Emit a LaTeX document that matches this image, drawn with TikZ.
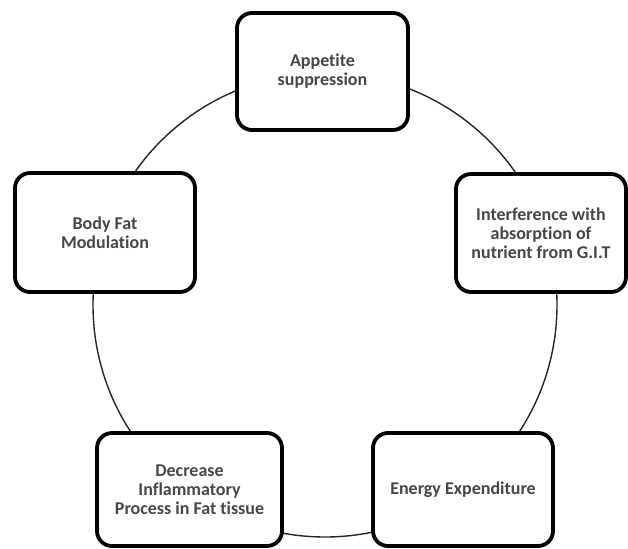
\documentclass[tikz,border=0pt]{standalone}
\usepackage{fontspec}
\setmainfont[Ligatures=NoCommon]{Carlito}
\begin{document}
\begin{tikzpicture}[x=1pt,y=-1pt,
  box/.style={draw=black,line width=3.8pt,rounded corners=15pt,fill=white,
    minimum width=#1,align=center,inner sep=0pt,
    font=\fontsize{18}{19}\selectfont\bfseries,text=black!72},
  ring/.style={draw=black!85,line width=1.4pt,circle,minimum size=464pt,inner sep=0pt}]
\useasboundingbox (0,0) rectangle (628,548);
\node[ring] (ring) at (325,305) {};
\node[box=171pt,minimum height=117pt] (app) at (322.5,71.5) {Appetite\\suppression};
\node[box=180pt,minimum height=119pt] (fat) at (105,232.5) {Body Fat\\Modulation};
\node[box=170pt,minimum height=118pt] (int) at (541,233) {Interference with\\absorption of\\nutrient from G.I.T};
\node[box=185pt,minimum height=113pt] (inf) at (189.5,489.5) {Decrease\\Inflammatory\\Process in Fat tissue};
\node[box=180pt,minimum height=113pt] (ene) at (463,489.5) {Energy Expenditure};
\end{tikzpicture}
\end{document}
